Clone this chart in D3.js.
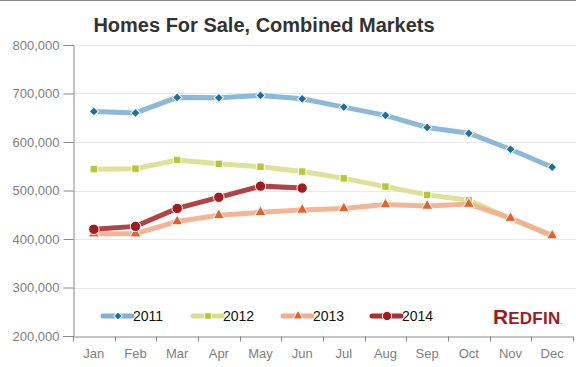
<!DOCTYPE html>
<html>
<head>
<meta charset="utf-8">
<script src="https://d3js.org/d3.v7.min.js"></script>
<style>
  body { margin: 0; background: #fff; }
  svg { display: block; font-family: "Liberation Sans", Arial, sans-serif; }
</style>
</head>
<body>
<div id="chart"></div>
<script>
// data
var months = ["Jan","Feb","Mar","Apr","May","Jun","Jul","Aug","Sep","Oct","Nov","Dec"]
var years = ["2011","2012","2013","2014"]
var v2011 = [663000, 660000, 692000, 691000, 696000, 689000, 672000, 655000, 630000, 618000, 585000, 548000]
var v2012 = [544000, 545000, 563000, 555000, 549000, 539000, 525000, 508000, 491000, 480000, 442000, 407000]
var v2013 = [411000, 411000, 436000, 449000, 455000, 460000, 463000, 471000, 468000, 472000, 443000, 407000]
var v2014 = [420000, 426000, 463000, 486000, 509000, 505000]
var yTicks = [200000, 300000, 400000, 500000, 600000, 700000, 800000]

var width = 576, height = 367
var margin = {top: 45, right: 3, bottom: 31, left: 73}

var svg = d3.select("#chart").append("svg")
    .attr("width", width)
    .attr("height", height)

// thin rule across the top
svg.append("line")
    .attr("x1", 0).attr("x2", width).attr("y1", 0.5).attr("y2", 0.5)
    .attr("stroke", "#888").attr("stroke-width", 1)

svg.append("text")
    .attr("x", 264).attr("y", 32)
    .attr("text-anchor", "middle")
    .style("font-size", "20px")
    .style("font-weight", "bold")
    .style("fill", "#333")
    .text("Homes For Sale, Combined Markets")

var x = d3.scaleBand()
    .domain(months)
    .range([margin.left, width - margin.right])

var y = d3.scaleLinear()
    .domain([200000, 800000])
    .range([height - margin.bottom, margin.top])

// grid
svg.append("g").selectAll("line")
    .data(yTicks.slice(1))
    .enter().append("line")
    .attr("x1", margin.left).attr("x2", width)
    .attr("y1", function(d) { return Math.round(y(d)) + 0.5 })
    .attr("y2", function(d) { return Math.round(y(d)) + 0.5 })
    .attr("stroke", "#e8e8e8")

// y axis
var yAxis = svg.append("g")
    .attr("transform", "translate(" + (margin.left + 0.5) + ",0)")
    .call(d3.axisLeft(y).tickValues(yTicks).tickFormat(d3.format(",")).tickSizeOuter(0).tickSize(10).tickPadding(4))
yAxis.select(".domain").attr("stroke", "#888")
yAxis.selectAll(".tick line").attr("stroke", "#888")
yAxis.selectAll("text").style("font-size", "13px").style("fill", "#808080").attr("font-family", null)

// x axis, ticks at band edges
var xAxis = svg.append("g")
    .attr("transform", "translate(0," + (Math.round(y(200000)) + 0.5) + ")")
    .call(d3.axisBottom(x).tickSize(0).tickPadding(12).tickSizeOuter(0))
xAxis.select(".domain").attr("stroke", "#888")
xAxis.selectAll("text").style("font-size", "13px").style("fill", "#808080").attr("font-family", null)
xAxis.selectAll(".edge")
    .data(months.concat(["end"]))
    .enter().append("line")
    .attr("class", "edge")
    .attr("x1", function(d, i) { return Math.round(margin.left + i * x.bandwidth()) + 0.5 })
    .attr("x2", function(d, i) { return Math.round(margin.left + i * x.bandwidth()) + 0.5 })
    .attr("y1", 0).attr("y2", 5)
    .attr("stroke", "#888")

// rot: rotate the symbol (the 2011 marker is a square turned 45 degrees)
var series = [
    {name: "2011", values: v2011, line: "#7fb3d1", mark: "#1a6fa3", sym: d3.symbolSquare, size: 42, rot: 45},
    {name: "2012", values: v2012, line: "#d6e08c", mark: "#b5c934", sym: d3.symbolSquare, size: 56, rot: 0},
    {name: "2013", values: v2013, line: "#f3ad8c", mark: "#e8602a", sym: d3.symbolTriangle, size: 55, rot: 0},
    {name: "2014", values: v2014, line: "#a92f31", mark: "#a01c20", sym: d3.symbolCircle, size: 85, rot: 0}
]

var line = d3.line()
    .x(function(d, i) { return x(months[i]) + x.bandwidth() / 2 })
    .y(function(d) { return y(d) })

series.forEach(function(s) {
    var g = svg.append("g")
    g.append("path")
        .attr("d", line(s.values))
        .attr("fill", "none")
        .attr("stroke", s.line)
        .attr("stroke-width", 5)
        .attr("stroke-opacity", 0.9)
    g.selectAll("path.pt")
        .data(s.values)
        .enter().append("path")
        .attr("class", "pt")
        .attr("d", d3.symbol().type(s.sym).size(s.size))
        .attr("transform", function(d, i) {
            return "translate(" + (x(months[i]) + x.bandwidth() / 2) + "," + y(d) + ") rotate(" + s.rot + ")"
        })
        .attr("fill", s.mark)
        .attr("stroke", "#fff")
        .attr("stroke-width", 1)
})

// legend
var legendX = [103, 193, 283, 372]
var legendY = 316
var leg = svg.append("g").selectAll("g")
    .data(series)
    .enter().append("g")
    .attr("transform", function(d, i) { return "translate(" + legendX[i] + "," + legendY + ")" })
leg.append("line")
    .attr("x1", 0).attr("x2", 29).attr("y1", 0).attr("y2", 0)
    .attr("stroke", function(d) { return d.line })
    .attr("stroke-width", 5)
    .attr("stroke-linecap", "round")
leg.append("path")
    .attr("d", function(d) { return d3.symbol().type(d.sym).size(d.size * 0.8)() })
    .attr("transform", function(d) { return "translate(15,0) rotate(" + d.rot + ")" })
    .attr("fill", function(d) { return d.mark })
    .attr("stroke", "#fff")
    .attr("stroke-width", 1)
leg.append("text")
    .attr("x", 30).attr("y", 5)
    .style("font-size", "14px")
    .style("fill", "#111")
    .text(function(d) { return d.name })

// redfin wordmark
var logo = svg.append("text")
    .attr("x", 493).attr("y", 324)
    .style("font-weight", "bold")
    .style("fill", "#9e1b1f")
logo.append("tspan").style("font-size", "21px").text("R")
logo.append("tspan").style("font-size", "17px").attr("textLength", 52).text("EDFIN")
logo.append("tspan").style("font-size", "6px").text(".")
</script>
</body>
</html>
